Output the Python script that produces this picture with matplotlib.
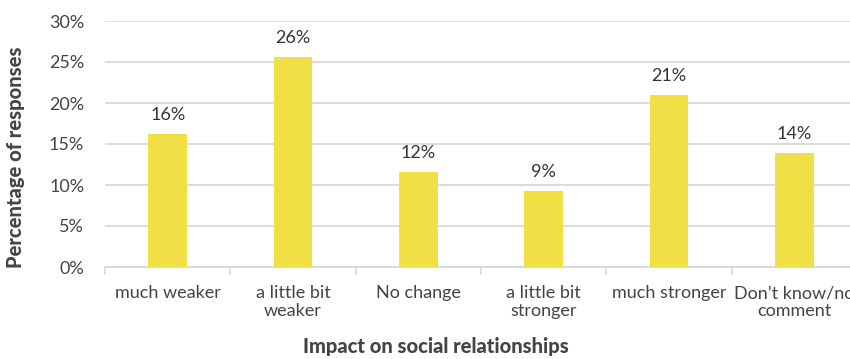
import numpy as np
import matplotlib.pyplot as plt
from matplotlib.ticker import FuncFormatter

# survey results: impact on social relationships
categories = ['much weaker', 'a little bit\nweaker', 'No change',
              'a little bit\nstronger', 'much stronger', 'Don\u2019t know/no\ncomment']
share = [16.2, 25.6, 11.6, 9.3, 21.0, 13.9]
yticks = [0, 5, 10, 15, 20, 25, 30]

plt.rcParams['font.family'] = ['Lato', 'DejaVu Sans']

bar_color = '#F0E046'
grid_color = '#D9D9D9'
text_color = '#444444'

fig = plt.figure(figsize=(8.5, 3.59), dpi=100)
ax = fig.add_axes([105 / 850, 1 - 267 / 359, 752 / 850, 246 / 359])

x = np.arange(len(categories))
ax.bar(x, share, width=0.31, color=bar_color, zorder=3)

for xi, v in zip(x, share):
    ax.text(xi, v + 1.3, f'{round(v):d}%', ha='center', va='bottom',
            fontsize=13, color='#333333')

ax.set_xlim(-0.5, len(categories) - 0.5)
ax.set_ylim(0, 30)
ax.set_yticks(yticks)
ax.yaxis.set_major_formatter(FuncFormatter(lambda v, p: f'{v:.0f}%'))
ax.grid(axis='y', color=grid_color, linewidth=1.3, zorder=0)

# category labels centred in each slot, separators on the boundaries
ax.set_xticks(x)
ax.set_xticklabels(categories, fontsize=13, color=text_color, linespacing=1.15)
ax.tick_params(axis='x', length=0, pad=13)
ax.set_xticks(np.arange(len(categories) + 1) - 0.5, minor=True)
ax.tick_params(axis='x', which='minor', length=6, width=1.2, color=grid_color)
ax.tick_params(axis='y', length=0, pad=15, labelsize=13, labelcolor=text_color)

for s in ['top', 'right', 'left']:
    ax.spines[s].set_visible(False)
ax.spines['bottom'].set_color(grid_color)
ax.spines['bottom'].set_linewidth(1.3)

fig.text(16 / 850, 1 - 157 / 359, 'Percentage of responses', rotation=90,
         ha='center', va='center', fontsize=14.5, fontweight='black', color=text_color)
fig.text(436 / 850, 1 - 347 / 359, 'Impact on social relationships',
         ha='center', va='center', fontsize=14.5, fontweight='black', color=text_color)

fig.savefig('out.png', dpi=100)
